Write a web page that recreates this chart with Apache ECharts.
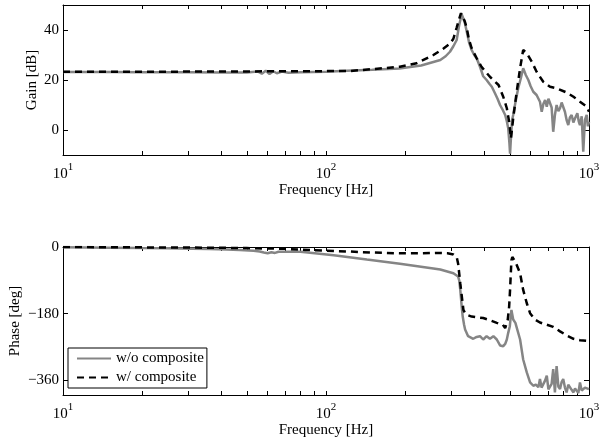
<!DOCTYPE html>
<html>
<head>
<meta charset="utf-8">
<script src="https://cdn.jsdelivr.net/npm/echarts@6/dist/echarts.min.js"></script>
<style>
  html, body { margin: 0; padding: 0; background: #fff; }
  #main { width: 599px; height: 443px; }
</style>
</head>
<body>
<div id="main"></div>
<script>
// gain, w/o composite (gray, solid)
const woGainHz = [10, 15, 20, 30, 40, 50, 55, 57, 59, 61, 63, 65, 68, 72, 80, 100, 120, 150, 190, 230,
  256, 272, 285, 296, 305, 314, 321, 328, 332, 337, 343, 350, 358, 366, 374, 385, 396, 408, 418, 427,
  439, 449, 459, 470, 480, 487, 493, 498, 501, 505, 510, 515, 525, 538, 550, 562, 575, 588, 600, 614,
  632, 651, 661, 671, 681, 691, 701, 711, 721, 731, 742, 753, 765, 776, 787, 798, 810, 822, 834, 846,
  859, 872, 885, 903, 914, 924, 938, 951, 965, 980, 990, 1000];
const woGainDb = [23.2, 23.2, 23.1, 23.1, 23.0, 23.0, 23.4, 22.5, 23.7, 22.4, 23.5, 22.7, 23.4, 22.9, 23.1, 23.3, 23.7, 24.1, 24.6, 25.8,
  27.2, 28.0, 29.5, 31.3, 33.5, 36.0, 42.0, 46.3, 46.7, 43.0, 39.3, 35.0, 32.0, 30.0, 28.7, 25.3, 21.5, 20.0, 18.5, 17.3,
  14.7, 12.5, 10.0, 8.0, 6.0, 3.5, 0.7, -5.0, -9.5, -3.0, 4.0, 6.0, 11.0, 16.7, 20.5, 24.7, 22.0, 20.0, 17.5, 15.3,
  14.0, 11.3, 7.3, 10.5, 12.0, 9.3, 12.5, 12.7, 9.0, -0.7, 6.0, 10.0, 7.5, 8.7, 11.0, 11.3, 7.3, 4.0, 2.0, 5.0,
  6.0, 3.0, 4.7, 6.7, 3.5, 2.0, 5.5, -8.7, 4.0, 6.0, 1.5, 3.3];

// gain, w/ composite (black, dashed)
const wGainHz = [10, 20, 40, 80, 123, 165, 191, 221, 256, 279, 296, 305, 314, 321, 326, 331, 337, 343, 350, 358,
  374, 390, 420, 453, 472, 487, 497, 505, 515, 531, 547, 562, 580, 606, 632, 670, 711, 753, 822, 873,
  924, 980, 1000];
const wGainDb = [23.3, 23.3, 23.4, 23.5, 23.6, 24.7, 25.3, 26.7, 30.0, 32.5, 34.5, 36.5, 41.0, 44.5, 46.7, 46.5, 43.5, 40.7, 36.0, 32.7,
  28.7, 25.3, 21.3, 18.0, 13.3, 8.7, 3.3, -3.3, 4.7, 15.3, 24.7, 32.0, 30.7, 27.3, 23.3, 19.3, 17.3, 16.7, 15.0, 13.3,
  11.3, 9.3, 7.3];

// phase, w/o composite
const woPhaseHz = [10, 15, 20, 25, 31, 36, 42, 47, 53, 56, 58, 60, 62, 64, 66, 70, 80, 107, 143, 191,
  256, 272, 305, 318, 321, 324, 328, 331, 335, 338, 347, 363, 374, 385, 396, 408, 420, 433, 446, 459,
  472, 480, 487, 493, 500, 507, 515, 525, 547, 562, 580, 597, 614, 628, 642, 651, 660, 670, 680, 691,
  701, 711, 721, 731, 742, 753, 765, 776, 787, 798, 810, 822, 834, 846, 859, 873, 885, 898, 911, 924,
  938, 951, 965, 980, 1000];
const woPhaseDeg = [-1, -2, -3, -3.5, -4.5, -5.5, -6.5, -8, -10, -12, -15, -17, -14, -16, -13, -13, -13, -22, -34, -45,
  -58, -61, -71, -80, -90, -116, -160, -188, -210, -223, -241, -248, -243, -241, -250, -241, -248, -241, -250, -266,
  -268, -262, -250, -232, -214, -170, -196, -205, -250, -304, -339, -366, -375, -372, -379, -357, -380, -384, -362, -348,
  -385, -389, -370, -330, -393, -322, -378, -384, -365, -357, -380, -393, -372, -375, -386, -393, -382, -379, -395, -366,
  -388, -393, -380, -375, -384];

// phase, w/ composite
const wPhaseHz = [10, 20, 30, 40, 50, 60, 70, 80, 100, 120, 150, 190, 230, 260, 290, 305, 314, 318, 324, 333,
  340, 358, 375, 396, 420, 446, 470, 480, 491, 497, 501, 507, 511, 518, 525, 547, 562, 580, 597, 623,
  651, 691, 731, 776, 822, 873, 924, 1000];
const wPhaseDeg = [0, -1, -1.5, -2, -3, -4, -5, -7, -10, -12, -15, -17, -17, -16, -17, -20, -27, -45, -98, -170,
  -182, -188, -190, -192, -198, -205, -210, -219, -196, -161, -116, -36, -27, -30, -40, -71, -116, -152, -179, -196,
  -204, -210, -216, -228, -239, -248, -252, -254];

const gainTicks = [0, 20, 40];
const phaseTicks = [-360, -180, 0];
const seriesNames = ['w/o composite', 'w/ composite'];

const FONT = 'Liberation Serif';
const GRAY = '#858585';
const axisLine = { show: true, onZero: false, lineStyle: { color: '#000', width: 1 } };
const pairs = (xs, ys) => xs.map((x, i) => [x, ys[i]]);
const minus = v => (v < 0 ? '\u2212' + (-v) : String(v));

// tick spots of the log axis, in decades (1 = 10 Hz, 3 = 1000 Hz)
const decadeTicks = [];
[1, 2].forEach(d => { for (let k = 1; k < 10; k++) decadeTicks.push(d + Math.log10(k)); });
decadeTicks.push(3);

function freqAxes(gi) {
  const tick = { show: true, inside: true, length: 4, customValues: decadeTicks, lineStyle: { color: '#000' } };
  return [
    {
      type: 'log', gridIndex: gi, logBase: 10, min: 10, max: 1000, position: 'bottom',
      axisLine: axisLine, axisTick: { show: false }, splitLine: { show: false },
      axisLabel: {
        margin: 7, color: '#000',
        formatter: v => '{b|10}{sup|' + Math.round(Math.log10(v)) + '}',
        rich: {
          b: { fontFamily: FONT, fontSize: 15, lineHeight: 20, verticalAlign: 'bottom', color: '#000' },
          sup: { fontFamily: FONT, fontSize: 11, lineHeight: 12, verticalAlign: 'top', color: '#000' }
        }
      },
      name: 'Frequency [Hz]', nameLocation: 'middle', nameGap: 28, nameMoveOverlap: false,
      nameTextStyle: { fontFamily: FONT, fontSize: 15, color: '#000' }
    },
    {
      type: 'value', gridIndex: gi, min: 1, max: 3, position: 'bottom',
      axisLine: { show: false, onZero: false }, axisTick: tick, axisLabel: { show: false }, splitLine: { show: false }
    },
    {
      type: 'value', gridIndex: gi, min: 1, max: 3, position: 'top',
      axisLine: axisLine, axisTick: tick, axisLabel: { show: false }, splitLine: { show: false }
    }
  ];
}

function levelAxes(gi, min, max, ticks, name, gap) {
  const tick = { show: true, inside: true, length: 5, customValues: ticks, lineStyle: { color: '#000' } };
  return [
    {
      type: 'value', gridIndex: gi, min: min, max: max, position: 'left',
      axisLine: axisLine, axisTick: tick, splitLine: { show: false },
      axisLabel: { customValues: ticks, formatter: minus, margin: 4, color: '#000', fontFamily: FONT, fontSize: 15 },
      name: name, nameLocation: 'middle', nameRotate: 90, nameGap: gap, nameMoveOverlap: false,
      nameTextStyle: { fontFamily: FONT, fontSize: 15, color: '#000' }
    },
    {
      type: 'value', gridIndex: gi, min: min, max: max, position: 'right',
      axisLine: axisLine, axisTick: tick, axisLabel: { show: false }, splitLine: { show: false }
    }
  ];
}

function line(name, data, xi, yi, dashed) {
  return {
    name: name, type: 'line', xAxisIndex: xi, yAxisIndex: yi, data: data,
    symbol: 'none', animation: false, silent: true,
    itemStyle: { color: dashed ? '#000' : GRAY },
    lineStyle: dashed ? { color: '#000', width: 2.5, type: [7, 5] } : { color: GRAY, width: 2.5 }
  };
}

const chart = echarts.init(document.getElementById('main'));
chart.setOption({
  backgroundColor: '#fff',
  animation: false,
  grid: [
    { left: 63, right: 10, top: 5, height: 150, outerBoundsMode: 'none' },
    { left: 63, right: 10, top: 247, height: 148, outerBoundsMode: 'none' }
  ],
  xAxis: freqAxes(0).concat(freqAxes(1)),
  yAxis: levelAxes(0, -10, 50, gainTicks, 'Gain [dB]', 23).concat(levelAxes(1, -400, 0, phaseTicks, 'Phase [deg]', 40)),
  legend: {
    data: seriesNames, left: 68, top: 348, orient: 'vertical',
    itemWidth: 34, itemHeight: 16, itemGap: 4, padding: [3, 3, 3, 8],
    itemStyle: { opacity: 0 },
    borderColor: '#000', borderWidth: 1, backgroundColor: '#fff',
    textStyle: { fontFamily: FONT, fontSize: 15, color: '#000' }
  },
  series: [
    line(seriesNames[0], pairs(woGainHz, woGainDb), 0, 0, false),
    line(seriesNames[1], pairs(wGainHz, wGainDb), 0, 0, true),
    line(seriesNames[0], pairs(woPhaseHz, woPhaseDeg), 3, 2, false),
    line(seriesNames[1], pairs(wPhaseHz, wPhaseDeg), 3, 2, true)
  ]
});
</script>
</body>
</html>
